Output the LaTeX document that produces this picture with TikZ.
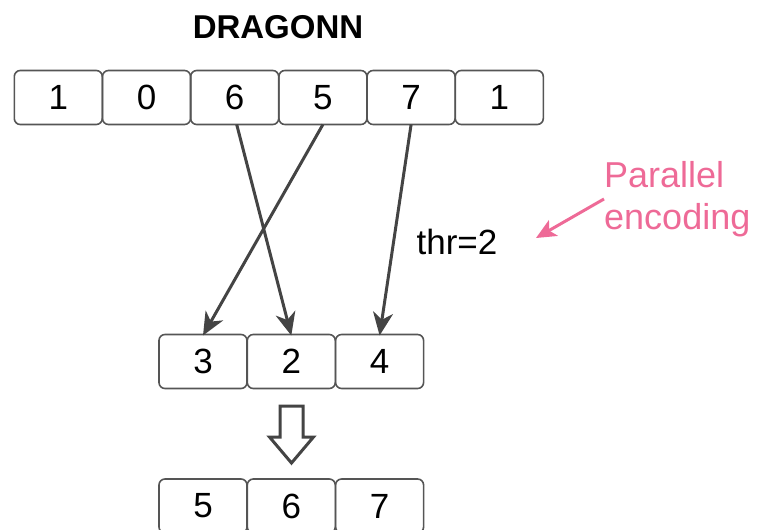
\documentclass[tikz,border=0pt]{standalone}
\usepackage{fontspec}
\setmainfont{Liberation Sans}
\usetikzlibrary{arrows.meta}
\definecolor{edge}{HTML}{555555}
\definecolor{wire}{HTML}{444444}
\definecolor{rose}{HTML}{EE6A97}
\tikzset{
  cell/.style={draw=edge, line width=1.6pt, rounded corners=6pt, minimum width=88pt,
    minimum height=54pt, inner sep=0pt, outer sep=0pt, font=\fontsize{35}{40}\selectfont},
  conn/.style={draw=wire, line width=3pt, -{Stealth[length=23pt, width=20pt, inset=7pt]}},
  hollow/.style={draw=wire, line width=3pt, fill=white, line join=miter},
  note/.style={font=\fontsize{35}{40}\selectfont},
  pinknote/.style={text=rose, font=\fontsize{36}{42}\selectfont, align=left, inner sep=0pt},
  pinkarrow/.style={draw=rose, line width=3pt, -{Stealth[length=20pt, width=18pt, inset=5pt]}}
}
\begin{document}
\begin{tikzpicture}[x=1pt, y=-1pt]
\useasboundingbox (0,0) rectangle (758,530);

% title
\node[font=\bfseries\fontsize{33}{40}\selectfont] (title) at (278,27) {DRAGONN};

% input row
\foreach \v [count=\i from 0] in {1,0,6,5,7,1}
  \node[cell] (t\i) at (58.3+88.2*\i, 97.5) {\v};

% buckets
\foreach \v [count=\i from 0] in {3,2,4}
  \node[cell] (m\i) at (203+88.3*\i, 361.5) {\v};

% sorted output
\foreach \v [count=\i from 0] in {5,6,7}
  \node[cell] (b\i) at (203+88.3*\i, 506) {\v};

% placement arrows
\draw[conn] ([xshift=2pt]t2.south) -- ([yshift=-1pt]m1.north);
\draw[conn] (t3.south) -- ([yshift=-1pt]m0.north);
\draw[conn] (t4.south) -- ([yshift=-1pt]m2.north);

\node[note] (thr) at (457,242) {thr=2};

% parallel encoding note
\node[pinknote, anchor=north west] (pe) at (604,161) {Parallel\\encoding};
\coordinate (pt) at (536,238);
\draw[pinkarrow] (pe.west) -- (pt);

% hollow down arrow between buckets and output
\coordinate (ha) at (291.5,406);
\draw[hollow] ([xshift=-11.5pt]ha) -- ++(0,31) -- ++(-10.5,0) -- ([yshift=-57pt]ha)
  -- ([xshift=22pt, yshift=-31pt]ha) -- ++(-10.5,0) -- ([xshift=11.5pt]ha) -- cycle;
\end{tikzpicture}
\end{document}
